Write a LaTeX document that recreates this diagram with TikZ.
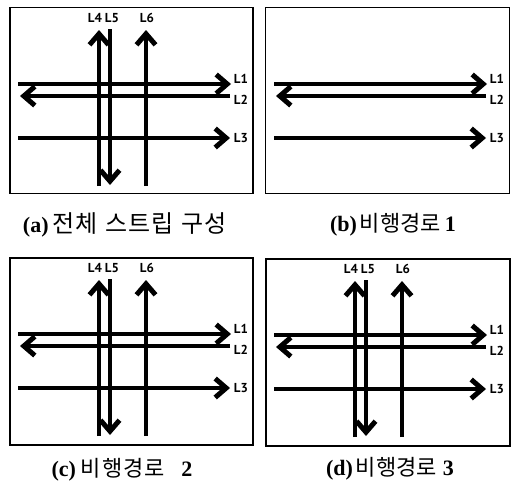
\documentclass[tikz,border=0pt]{standalone}
\usepackage{fontspec}
\setmainfont{Liberation Serif}
\newfontfamily\krfont{Noto Sans CJK KR}
\newfontfamily\lblfont{PT Sans}
\usetikzlibrary{arrows.meta}
\begin{document}
\begin{tikzpicture}[x=1pt,y=-1pt,
  panelframe/.style={draw=black,line width=1.6pt},
  flight/.style={line width=3.8pt,-{Straight Barb[length=11pt,width=19pt,line width=5pt]}},
  lbl/.style={font=\lblfont\bfseries\fontsize{13}{14}\selectfont,inner sep=0pt},
  captext/.style={font=\fontsize{22}{24}\selectfont,inner sep=0pt}]
\useasboundingbox (0,0) rectangle (513,485);
\fill[white] (0,0) rectangle (513,485);

\newcommand\hlinesset[1]{%
  \coordinate (#1-l1s) at (18,84);  \coordinate (#1-l1e) at (231,84);
  \coordinate (#1-l2s) at (230,96); \coordinate (#1-l2e) at (20,96);
  \coordinate (#1-l3s) at (18,138); \coordinate (#1-l3e) at (230,138);
  \draw[flight] (#1-l1s) -- (#1-l1e);
  \draw[flight] (#1-l2s) -- (#1-l2e);
  \draw[flight] (#1-l3s) -- (#1-l3e);
  \node[lbl] (#1-L1) at (241,79) {L1};
  \node[lbl] (#1-L2) at (241,100) {L2};
  \node[lbl] (#1-L3) at (241,138) {L3};}
\newcommand\vlinesset[1]{%
  \coordinate (#1-l4s) at (99,186);  \coordinate (#1-l4e) at (99,30);
  \coordinate (#1-l5s) at (110,29);  \coordinate (#1-l5e) at (110,185);
  \coordinate (#1-l6s) at (146,186); \coordinate (#1-l6e) at (146,30);
  \draw[flight] (#1-l4s) -- (#1-l4e);
  \draw[flight] (#1-l5s) -- (#1-l5e);
  \draw[flight] (#1-l6s) -- (#1-l6e);
  \node[lbl] (#1-L4) at (95,18) {L4};
  \node[lbl] (#1-L5) at (112,18) {L5};
  \node[lbl] (#1-L6) at (147,18) {L6};}

% (a)
\begin{scope}
  \node[panelframe,minimum width=243pt,minimum height=186pt,inner sep=0pt] (fa) at (131.5,100.5) {};
  \hlinesset{a}\vlinesset{a}
  \node[captext] (ca) at (125,225) {\textbf{(a)}\hspace{4pt}{\krfont\fontsize{24}{26}\selectfont\addfontfeatures{LetterSpace=4}전체\hspace{8pt}스트립\hspace{8pt}구성}};
\end{scope}
% (b)
\begin{scope}[shift={(256,0)}]
  \node[panelframe,minimum width=244pt,minimum height=186pt,inner sep=0pt] (fb) at (131.5,100.5) {};
  \hlinesset{b}
  \node[captext] (cb) at (137,225) {\textbf{(b)}\hspace{3pt}{\krfont\fontsize{22}{24}\selectfont 비행경로}\hspace{4pt}\textbf{1}};
\end{scope}
% (c)
\begin{scope}[shift={(0,250)}]
  \node[panelframe,minimum width=243pt,minimum height=187pt,inner sep=0pt] (fc) at (131.5,101.5) {};
  \hlinesset{c}\vlinesset{c}
  \node[captext] (cc) at (122,220) {\textbf{(c)}\hspace{5pt}{\krfont\fontsize{22}{24}\selectfont\addfontfeatures{LetterSpace=4}비행경로}\hspace{16pt}\textbf{2}};
\end{scope}
% (d)
\begin{scope}[shift={(256,251)}]
  \node[panelframe,minimum width=244pt,minimum height=187pt,inner sep=0pt] (fd) at (132,101.5) {};
  \hlinesset{d}\vlinesset{d}
  \node[captext] (cd) at (134,218) {\textbf{(d)}\hspace{3pt}{\krfont\fontsize{22}{24}\selectfont 비행경로}\hspace{6pt}\textbf{3}};
\end{scope}
\end{tikzpicture}
\end{document}
